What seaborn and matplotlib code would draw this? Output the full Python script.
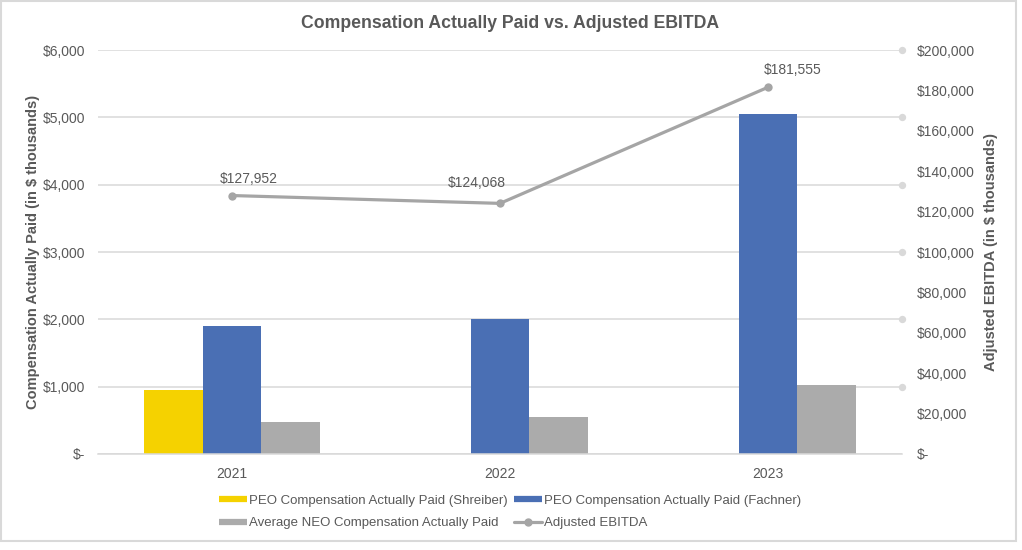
import seaborn as sns
import matplotlib.pyplot as plt
import pandas as pd
import numpy as np
from matplotlib.patches import Rectangle
from matplotlib.lines import Line2D
from matplotlib.ticker import FuncFormatter

#region Data

years = ['2021', '2022', '2023']
series_names = [
  'PEO Compensation Actually Paid (Shreiber)',
  'PEO Compensation Actually Paid (Fachner)',
  'Average NEO Compensation Actually Paid',
]
cap_shreiber = [950, 0, 0]
cap_fachner = [1900, 2000, 5050]
cap_neo = [480, 555, 1025]
ebitda = [127952, 124068, 181555]
ebitda_labels = ['$127,952', '$124,068', '$181,555']

left_ticks = [0, 1000, 2000, 3000, 4000, 5000, 6000]
right_ticks = [0, 20000, 40000, 60000, 80000, 100000, 120000, 140000, 160000, 180000, 200000]

#endregion

#region Styling

YELLOW = '#F5D200'
BLUE = '#4A6FB4'
GREY_BAR = '#ABABAB'
GREY_LINE = '#A5A5A5'
GRID = '#D9D9D9'
TEXT = '#595959'

sns.set_style('white')
plt.rcParams['font.family'] = ['Liberation Sans', 'DejaVu Sans']

#endregion

# long table for seaborn
df = pd.DataFrame({
  'year': years * 3,
  'series': np.repeat(series_names, len(years)),
  'value': cap_shreiber + cap_fachner + cap_neo,
})

fig = plt.figure(figsize = (10.22, 5.5), dpi = 100)
ax = fig.add_axes([98 / 1022, 1 - 454 / 550, 804 / 1022, 404 / 550])

sns.barplot(
  data = df, x = 'year', y = 'value', hue = 'series',
  hue_order = series_names, order = years,
  palette = [YELLOW, BLUE, GREY_BAR],
  width = 0.66, saturation = 1, errorbar = None, ax = ax, legend = False,
  linewidth = 0,
)

ax.set_xlim(-0.5, 2.5)
ax.set_ylim(0, 6000)
ax.set_yticks(left_ticks)
ax.yaxis.set_major_formatter(FuncFormatter(lambda v, p: '$-' if v == 0 else f'${v:,.0f}'))
ax.grid(axis = 'y', color = GRID, linewidth = 1.1)
ax.set_axisbelow(True)
for side in ['top', 'right', 'left']:
  ax.spines[side].set_visible(False)
ax.spines['bottom'].set_color(GRID)
ax.spines['bottom'].set_linewidth(1.1)
ax.tick_params(axis = 'both', length = 0, colors = TEXT, labelsize = 10)
ax.tick_params(axis = 'y', pad = 9)
ax.tick_params(axis = 'x', pad = 9)
ax.set_xlabel('')
ax.set_ylabel('Compensation Actually Paid (in $ thousands)', fontsize = 10.5,
  fontweight = 'bold', color = TEXT, labelpad = 2)

# small round caps at the right end of the gridlines
ax.scatter([2.5] * (len(left_ticks) - 1), left_ticks[1:], s = 28, color = GRID,
  clip_on = False, zorder = 3, linewidths = 0)

# line on secondary axis
ax2 = ax.twinx()
sns.lineplot(x = np.arange(len(years)), y = ebitda, ax = ax2, color = GREY_LINE,
  linewidth = 2.3, marker = 'o', markersize = 6, markeredgewidth = 0)
ax2.set_ylim(0, 200000)
ax2.set_yticks(right_ticks)
ax2.yaxis.set_major_formatter(FuncFormatter(lambda v, p: '$-' if v == 0 else f'${v:,.0f}'))
for side in ['top', 'right', 'left', 'bottom']:
  ax2.spines[side].set_visible(False)
ax2.tick_params(axis = 'y', length = 0, colors = TEXT, labelsize = 10, pad = 11)
ax2.set_ylabel('Adjusted EBITDA (in $ thousands)', fontsize = 10.5,
  fontweight = 'bold', color = TEXT, labelpad = 6)

label_offsets = [(17, 17), (-23, 20), (25, 17)]
for i, (val, lab) in enumerate(zip(ebitda, ebitda_labels)):
  ax2.annotate(lab, (i, val), xytext = label_offsets[i], textcoords = 'offset pixels',
    ha = 'center', va = 'center', fontsize = 10, color = TEXT)

fig.suptitle('Compensation Actually Paid vs. Adjusted EBITDA', x = 510 / 1022,
  y = 1 - 23 / 550, va = 'center', fontsize = 12.7, fontweight = 'bold', color = TEXT)

# legend, filled column-wise
handles = [
  Line2D([0], [0], color = YELLOW, linewidth = 4.5, solid_capstyle = 'butt'),
  Line2D([0], [0], color = GREY_BAR, linewidth = 4.5, solid_capstyle = 'butt'),
  Line2D([0], [0], color = BLUE, linewidth = 4.5, solid_capstyle = 'butt'),
  Line2D([0], [0], color = GREY_LINE, linewidth = 2.3, marker = 'o', markersize = 5),
]
labels = [series_names[0], series_names[2], series_names[1], 'Adjusted EBITDA']
fig.legend(handles, labels, ncol = 2, loc = 'center', frameon = False,
  bbox_to_anchor = (510 / 1022, 1 - 512 / 550), fontsize = 9.5, labelcolor = TEXT,
  handlelength = 2.1, handletextpad = 0.15, columnspacing = 0.5, labelspacing = 0.75)

# outer border
fig.patches.append(Rectangle((1 / 1022, 1 - 541 / 550), 1015 / 1022, 540 / 550,
  transform = fig.transFigure, fill = False, edgecolor = GRID, linewidth = 1.5))

fig.savefig('out.png', dpi = 100)
